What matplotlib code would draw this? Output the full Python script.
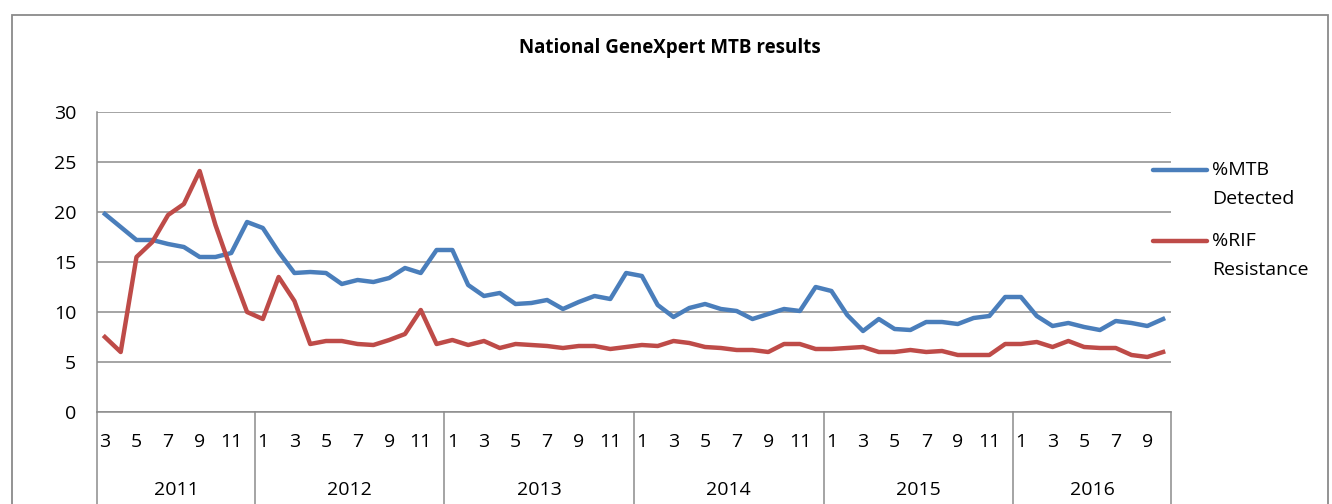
import matplotlib
matplotlib.use("Agg")
import matplotlib.pyplot as plt
from matplotlib.lines import Line2D
from matplotlib.patches import Rectangle

plt.rcParams['font.family'] = ['Open Sans', 'DejaVu Sans']

title = "National GeneXpert MTB results"
years = ["2011", "2012", "2013", "2014", "2015", "2016"]
months_per_year = [list(range(3, 13)), list(range(1, 13)), list(range(1, 13)),
                   list(range(1, 13)), list(range(1, 13)), list(range(1, 11))]

mtb_detected = [
    19.8, 18.5, 17.2, 17.2, 16.8, 16.5, 15.5, 15.5, 15.9, 19.0,          # 2011
    18.4, 16.0, 13.9, 14.0, 13.9, 12.8, 13.2, 13.0, 13.4, 14.4, 13.9, 16.2,  # 2012
    16.2, 12.7, 11.6, 11.9, 10.8, 10.9, 11.2, 10.3, 11.0, 11.6, 11.3, 13.9,  # 2013
    13.6, 10.7, 9.5, 10.4, 10.8, 10.3, 10.1, 9.3, 9.8, 10.3, 10.1, 12.5,     # 2014
    12.1, 9.7, 8.1, 9.3, 8.3, 8.2, 9.0, 9.0, 8.8, 9.4, 9.6, 11.5,            # 2015
    11.5, 9.6, 8.6, 8.9, 8.5, 8.2, 9.1, 8.9, 8.6, 9.3,                       # 2016
]
rif_resistance = [
    7.5, 6.0, 15.5, 17.0, 19.7, 20.8, 24.1, 18.7, 14.2, 10.0,             # 2011
    9.3, 13.5, 11.1, 6.8, 7.1, 7.1, 6.8, 6.7, 7.2, 7.8, 10.2, 6.8,          # 2012
    7.2, 6.7, 7.1, 6.4, 6.8, 6.7, 6.6, 6.4, 6.6, 6.6, 6.3, 6.5,             # 2013
    6.7, 6.6, 7.1, 6.9, 6.5, 6.4, 6.2, 6.2, 6.0, 6.8, 6.8, 6.3,             # 2014
    6.3, 6.4, 6.5, 6.0, 6.0, 6.2, 6.0, 6.1, 5.7, 5.7, 5.7, 6.8,             # 2015
    6.8, 7.0, 6.5, 7.1, 6.5, 6.4, 6.4, 5.7, 5.5, 6.0,                       # 2016
]
series_names = ["%MTB\nDetected", "%RIF\nResistance"]
colors = ["#4A7EBB", "#BE4B48"]
grid_color = "#8C8C8C"
fs = 14

W, H = 1332, 504
fig = plt.figure(figsize=(W / 100, H / 100), dpi=100)
ax = fig.add_axes([97 / W, 92 / H, 1074 / W, 300 / H])

n = len(mtb_detected)
x = list(range(n))
ax.plot(x, mtb_detected, color=colors[0], lw=3.2, solid_joinstyle='round', zorder=3)
ax.plot(x, rif_resistance, color=colors[1], lw=3.2, solid_joinstyle='round', zorder=3)

ax.set_xlim(-0.5, n - 0.5)
ax.set_ylim(0, 30)
ax.set_yticks(range(0, 31, 5))
ax.yaxis.grid(True, color=grid_color, lw=1.1)
ax.set_axisbelow(True)
ax.tick_params(axis='y', length=0, pad=15, labelsize=fs)
ax.set_xticks([])
for s in ['top', 'right']:
    ax.spines[s].set_visible(False)
for s in ['left', 'bottom']:
    ax.spines[s].set_color(grid_color)
    ax.spines[s].set_linewidth(1.1)

# category labels (months + years)
xt = ax.get_xaxis_transform()
idx = 0
bounds = [-0.5]
for yr, months in zip(years, months_per_year):
    start = idx
    for m in months:
        if m % 2 == 1:
            ax.text(idx, -0.10, str(m), transform=xt, ha='center', va='center', fontsize=fs)
        idx += 1
    ax.text((start + idx - 1) / 2, -0.26, yr, transform=xt, ha='center', va='center', fontsize=fs)
    bounds.append(idx - 0.5)
for b in bounds:
    ax.plot([b, b], [0, -0.5], transform=xt, color=grid_color, lw=1.1, clip_on=False)

# title
fig.text(670 / W, 1 - 48 / H, title, ha='center', va='center', fontsize=13.5, fontweight='bold')

# legend (drawn manually to match layout)
for name, c, ly in zip(series_names, colors, [170, 241]):
    fig.add_artist(Line2D([1153 / W, 1207 / W], [1 - ly / H, 1 - ly / H], color=c, lw=3.2,
                          solid_capstyle='round', transform=fig.transFigure))
    first, second = name.split("\n")
    fig.text(1212 / W, 1 - ly / H, first, ha='left', va='center', fontsize=fs)
    fig.text(1212 / W, 1 - (ly + 29) / H, second, ha='left', va='center', fontsize=fs)

# outer chart border
fig.add_artist(Rectangle((12 / W, -0.2), (1328 - 12) / W, 1.2 - 15 / H, fill=False,
                         edgecolor="#8A8A8A", lw=1.3, transform=fig.transFigure))

fig.savefig("out.png", dpi=100)
